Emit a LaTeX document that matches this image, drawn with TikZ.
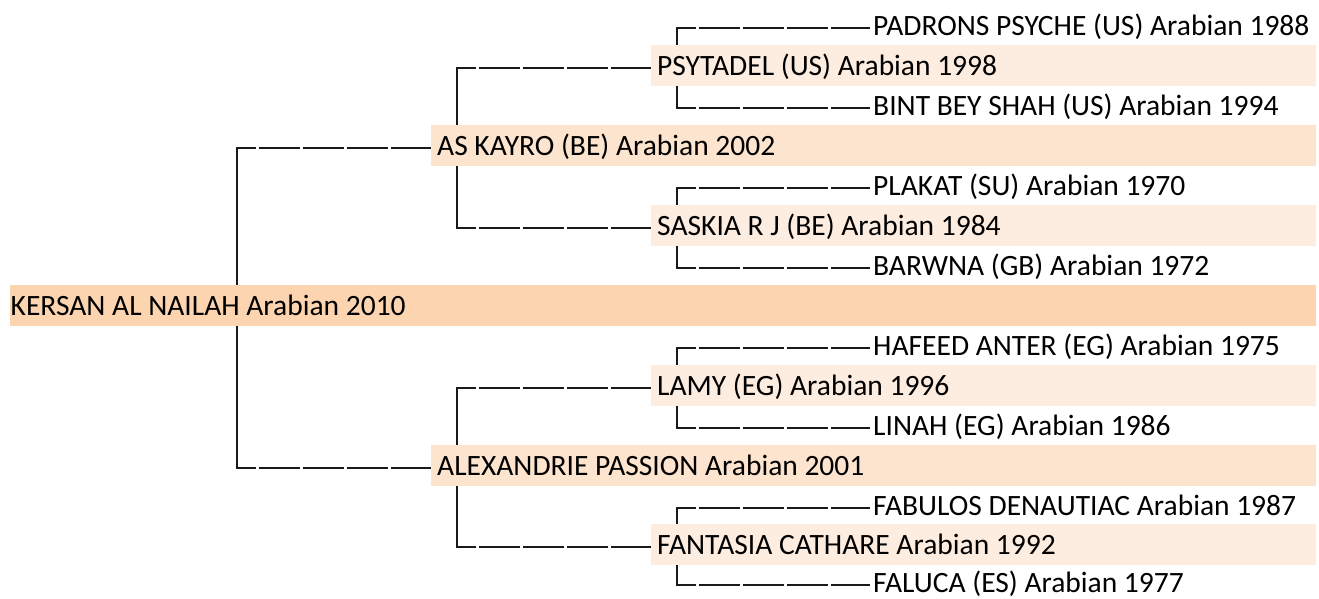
\documentclass[tikz,border=0pt]{standalone}
\usepackage{fontspec}
\setmainfont{Carlito}
\usetikzlibrary{calc}
\definecolor{barA}{HTML}{FCD5B0}
\definecolor{barB}{HTML}{FDE4CF}
\definecolor{barC}{HTML}{FDEDE1}
\definecolor{linecol}{HTML}{1A1A1A}
\newcommand\pedlink[4]{%
  \draw[vline] (#1 |- #2.#3) -- ($(#1 |- #4.west)+(0,2.5)$);
  \draw[hline] ($(#1 |- #4.west)+(-1,2.5)$) -- ($(#4.west)+(0,2.5)$);
}
\begin{document}
\begin{tikzpicture}[x=1pt,y=-1pt,
  ped/.style={anchor=base west, inner ysep=0pt, inner xsep=0pt, text height=30.5pt, text depth=10.5pt,
    font=\fontsize{29.5}{35}\selectfont, text=black},
  leaf/.style={ped, inner xsep=3pt},
  genA/.style={ped, fill=barA, inner xsep=0.5pt, text width=1305pt, align=flush left},
  genB/.style={ped, fill=barB, inner xsep=6pt, text width=873pt, align=flush left},
  genC/.style={ped, fill=barC, inner xsep=6pt, text width=653pt, align=flush left},
  vline/.style={draw=linecol, line width=2pt},
  hline/.style={draw=linecol, line width=2pt,
    dash pattern=on 19.5pt off 3pt on 41.2pt off 3pt on 41.2pt off 3pt on 41.2pt off 3pt on 400pt}]
\useasboundingbox (0,0) rectangle (1319,598);
\coordinate (v1) at (237,0);
\coordinate (v2) at (457,0);
\coordinate (v3) at (677,0);
\node[leaf] (padrons) at (870,35.5) {PADRONS PSYCHE (US) Arabian 1988};
\node[genC] (psytadel) at (651,75.5) {PSYTADEL (US) Arabian 1998};
\node[leaf] (bint) at (870,115.5) {BINT BEY SHAH (US) Arabian 1994};
\node[genB] (askayro) at (431,155.5) {AS KAYRO (BE) Arabian 2002};
\node[leaf] (plakat) at (870,195.5) {PLAKAT (SU) Arabian 1970};
\node[genC] (saskia) at (651,235.5) {SASKIA R J (BE) Arabian 1984};
\node[leaf] (barwna) at (870,275.5) {BARWNA (GB) Arabian 1972};
\node[genA] (kersan) at (10,315.5) {KERSAN AL NAILAH Arabian 2010};
\node[leaf] (hafeed) at (870,355.5) {HAFEED ANTER (EG) Arabian 1975};
\node[genC] (lamy) at (651,395.5) {LAMY (EG) Arabian 1996};
\node[leaf] (linah) at (870,435.5) {LINAH (EG) Arabian 1986};
\node[genB] (alex) at (431,475.5) {ALEXANDRIE PASSION Arabian 2001};
\node[leaf] (fabulos) at (870,515.5) {FABULOS DENAUTIAC Arabian 1987};
\node[genC] (fantasia) at (651,554.5) {FANTASIA CATHARE Arabian 1992};
\node[leaf] (faluca) at (870,592.5) {FALUCA (ES) Arabian 1977};
\pedlink{v1}{kersan}{north}{askayro}
\pedlink{v1}{kersan}{south}{alex}
\pedlink{v2}{askayro}{north}{psytadel}
\pedlink{v2}{askayro}{south}{saskia}
\pedlink{v2}{alex}{north}{lamy}
\pedlink{v2}{alex}{south}{fantasia}
\pedlink{v3}{psytadel}{north}{padrons}
\pedlink{v3}{psytadel}{south}{bint}
\pedlink{v3}{saskia}{north}{plakat}
\pedlink{v3}{saskia}{south}{barwna}
\pedlink{v3}{lamy}{north}{hafeed}
\pedlink{v3}{lamy}{south}{linah}
\pedlink{v3}{fantasia}{north}{fabulos}
\pedlink{v3}{fantasia}{south}{faluca}
\end{tikzpicture}
\end{document}
